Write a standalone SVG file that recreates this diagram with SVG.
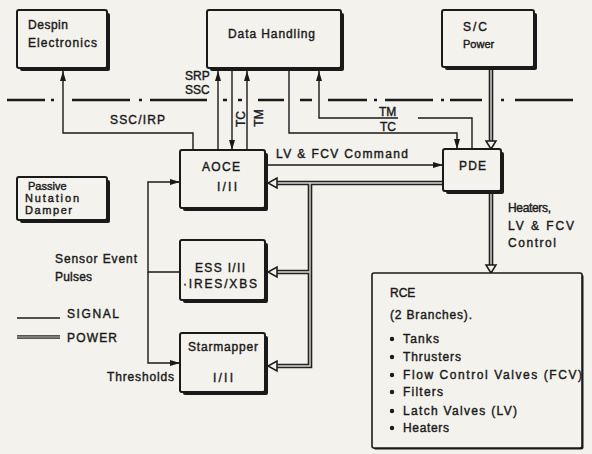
<svg xmlns="http://www.w3.org/2000/svg" width="592" height="454" viewBox="0 0 592 454">
<defs>
<style>
.bg{fill:#f3f2ed}
.box{fill:#f3f2ed;stroke:#1a1a1a;stroke-width:2}
.sh{fill:#1a1a1a}
.s{fill:none;stroke:#1a1a1a;stroke-width:1.4}
.dd{fill:none;stroke:#1a1a1a;stroke-width:2.6}
.pwo{fill:none;stroke:#222;stroke-width:4.6}
.pwi{fill:none;stroke:#d8d7d2;stroke-width:1.4}
.ot{fill:#f3f2ed;stroke:#1a1a1a;stroke-width:1.5;stroke-linejoin:miter}
.t{font-family:"Liberation Sans",Arial,Helvetica,sans-serif;font-size:12px;font-weight:normal;fill:#1a1a1a;stroke:#1a1a1a;stroke-width:0.4}
.sm{font-size:11px}
</style>
<marker id="ar" viewBox="0 0 10 6" refX="10" refY="3" markerWidth="10" markerHeight="6" markerUnits="userSpaceOnUse" orient="auto"><path d="M0,0 L10,3 L0,6 z" fill="#1a1a1a"/></marker>
</defs>
<rect class="bg" x="0" y="0" width="592" height="454"/>

<g id="boundary">
<path class="dd" d="M7,100H45M51,100H54M72,100H130M139,100H142M150,100H207M223,100H227M238,100H242M258,100H284M300,100H312M328,100H367M374,100H377M385,100H433M441,100H444M450,100H482M501,100H504M515,100H573"/>
</g>

<g id="connectors">
<!-- signal lines -->
<path class="s" d="M193,150V133H63V71" marker-end="url(#ar)"/>
<path class="s" d="M218,150V71" marker-end="url(#ar)"/>
<path class="s" d="M232,71V150" marker-end="url(#ar)"/>
<path class="s" d="M247,150V71" marker-end="url(#ar)"/>
<path class="s" d="M472,149V118H418"/>
<path class="s" d="M398,118H319V71" marker-end="url(#ar)"/>
<path class="s" d="M289,71V133H457V149" marker-end="url(#ar)"/>
<path class="s" d="M268,165H443" marker-end="url(#ar)"/>
<path class="s" d="M180,272H148V182H180" marker-end="url(#ar)"/>
<path class="s" d="M148,272V363H180" marker-end="url(#ar)"/>
<!-- power lines -->
<path class="pwo" d="M491,70V141"/>
<path class="pwo" d="M491,194V265"/>
<path class="pwo" d="M443,183H277M310,183V366H277M310,272H277"/>
<path class="pwi" d="M491,70V141"/>
<path class="pwi" d="M491,194V265"/>
<path class="pwi" d="M443,183H277M310,183V366H277M310,272H277"/>
<polygon class="ot" points="486,141 496,141 491,149"/>
<polygon class="ot" points="486,265 496,265 491,273"/>
<polygon class="ot" points="277,178 277,188 268,183"/>
<polygon class="ot" points="277,267 277,277 268,272"/>
<polygon class="ot" points="277,361 277,371 268,366"/>
<!-- connector labels -->
<text class="t" x="185" y="80">SRP</text>
<text class="t" x="185" y="94">SSC</text>
<text class="t" x="110" y="124" textLength="55" lengthAdjust="spacing">SSC/IRP</text>
<text class="t" transform="translate(245,119) rotate(-90)" text-anchor="middle">TC</text>
<text class="t" transform="translate(263,118) rotate(-90)" text-anchor="middle">TM</text>
<text class="t" x="276" y="158" textLength="132" lengthAdjust="spacing">LV &amp; FCV Command</text>
<text class="t" x="379" y="116">TM</text>
<text class="t" x="380" y="131">TC</text>
<text class="t" x="508" y="212" textLength="43" lengthAdjust="spacing">Heaters,</text>
<text class="t" x="508" y="230" textLength="66" lengthAdjust="spacing">LV &amp; FCV</text>
<text class="t" x="508" y="247" textLength="48" lengthAdjust="spacing">Control</text>
<text class="t" x="55" y="263" textLength="82" lengthAdjust="spacing">Sensor Event</text>
<text class="t" x="55" y="281" textLength="37" lengthAdjust="spacing">Pulses</text>
<text class="t" x="107" y="381" textLength="67" lengthAdjust="spacing">Thresholds</text>
</g>

<g id="legend">
<path class="s" d="M17,318H60"/>
<path class="pwo" d="M17,337H60" style="stroke-width:3.6"/>
<path class="pwi" d="M17,337H60" style="stroke-width:1"/>
<text class="t" x="67" y="318" textLength="52" lengthAdjust="spacing">SIGNAL</text>
<text class="t" x="67" y="342" textLength="50" lengthAdjust="spacing">POWER</text>
</g>

<g id="despin">
<rect class="sh" x="20" y="13" width="90" height="58" rx="2"/>
<rect class="box" x="17" y="10" width="90" height="58" rx="2"/>
<text class="t" x="28" y="29" textLength="40" lengthAdjust="spacing">Despin</text>
<text class="t" x="28" y="47" textLength="69" lengthAdjust="spacing">Electronics</text>
</g>

<g id="data-handling">
<rect class="sh" x="210" y="13" width="134" height="58" rx="2"/>
<rect class="box" x="207" y="10" width="134" height="58" rx="2"/>
<text class="t" x="228" y="38" textLength="87" lengthAdjust="spacing">Data Handling</text>
</g>

<g id="sc-power">
<rect class="sh" x="445" y="13" width="92" height="57" rx="2"/>
<rect class="box" x="442" y="10" width="92" height="57" rx="2"/>
<text class="t" x="463" y="31" textLength="24" lengthAdjust="spacing">S/C</text>
<text class="t sm" x="463" y="48">Power</text>
</g>

<g id="aoce">
<rect class="sh" x="183" y="153" width="85" height="58" rx="2"/>
<rect class="box" x="180" y="150" width="85" height="58" rx="2"/>
<text class="t" x="202" y="171" textLength="38" lengthAdjust="spacing">AOCE</text>
<text class="t" x="217" y="191" textLength="20" lengthAdjust="spacing">I/II</text>
</g>

<g id="pde">
<rect class="sh" x="446" y="152" width="58" height="42" rx="2"/>
<rect class="box" x="443" y="149" width="58" height="42" rx="2"/>
<text class="t" x="459" y="170" textLength="27" lengthAdjust="spacing">PDE</text>
</g>

<g id="passive-damper">
<rect class="sh" x="20" y="180" width="90" height="43" rx="2"/>
<rect class="box" x="17" y="177" width="90" height="43" rx="2"/>
<text class="t sm" x="28" y="190">Passive</text>
<text class="t sm" x="25" y="202" textLength="54" lengthAdjust="spacing">Nutation</text>
<text class="t sm" x="25" y="214" textLength="47" lengthAdjust="spacing">Damper</text>
</g>

<g id="ess">
<rect class="sh" x="183" y="243" width="85" height="60" rx="2"/>
<rect class="box" x="180" y="240" width="85" height="60" rx="2"/>
<text class="t" x="195" y="272" textLength="50" lengthAdjust="spacing">ESS I/II</text>
<text class="t" x="183" y="288" textLength="74" lengthAdjust="spacing">·IRES/XBS</text>
</g>

<g id="starmapper">
<rect class="sh" x="183" y="336" width="85" height="59" rx="2"/>
<rect class="box" x="180" y="333" width="85" height="59" rx="2"/>
<text class="t" x="188" y="351" textLength="70" lengthAdjust="spacing">Starmapper</text>
<text class="t" x="213" y="382" textLength="20" lengthAdjust="spacing">I/II</text>
</g>

<g id="rce">
<rect class="sh" x="373.5" y="274.5" width="210" height="175" rx="2"/>
<rect class="box" x="372" y="273" width="210" height="175" rx="2" style="stroke-width:1.6"/>
<text class="t" x="390" y="297">RCE</text>
<text class="t" x="390" y="319" textLength="82" lengthAdjust="spacing">(2 Branches).</text>
<g class="sh">
<circle cx="392" cy="339" r="2.2"/>
<circle cx="392" cy="357" r="2.2"/>
<circle cx="392" cy="375" r="2.2"/>
<circle cx="392" cy="392" r="2.2"/>
<circle cx="392" cy="411" r="2.2"/>
<circle cx="392" cy="428" r="2.2"/>
</g>
<text class="t" x="403" y="343" textLength="36" lengthAdjust="spacing">Tanks</text>
<text class="t" x="403" y="361" textLength="58" lengthAdjust="spacing">Thrusters</text>
<text class="t" x="403" y="379" textLength="179" lengthAdjust="spacing">Flow Control Valves (FCV)</text>
<text class="t" x="403" y="396" textLength="40" lengthAdjust="spacing">Filters</text>
<text class="t" x="403" y="415" textLength="114" lengthAdjust="spacing">Latch Valves (LV)</text>
<text class="t" x="403" y="432" textLength="46" lengthAdjust="spacing">Heaters</text>
</g>
</svg>
